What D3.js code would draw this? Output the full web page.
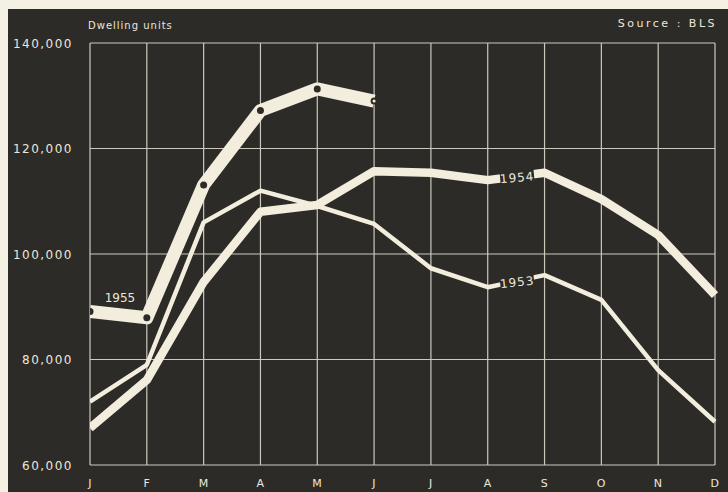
<!DOCTYPE html>
<html>
<head>
<script src="https://d3js.org/d3.v7.min.js"></script>
<style>
body { margin: 0; background: #f4f0e3; }
text { font-family: "DejaVu Sans", sans-serif; fill: #ece7d8; }
.axis text { font-size: 12px; letter-spacing: 1.5px; }
.grid line { stroke: #cdc9bd; stroke-width: 1.2; }
</style>
</head>
<body>
<script>
var months = ["J", "F", "M", "A", "M", "J", "J", "A", "S", "O", "N", "D"];
var yTicks = [60000, 80000, 100000, 120000, 140000];
var v1955 = [89100, 87900, 113100, 127200, 131300, 129000];
var v1954 = [67000, 76100, 94700, 108000, 109300, 115700, 115400, 114000, 115400, 110400, 103600, 92200];
var v1953 = [72000, 79000, 106000, 112000, 109100, 105700, 97300, 93700, 96000, 91300, 78000, 68200];

var W = 728, H = 492;
var margin = {top: 43, left: 90, right: 13, bottom: 27};
var bg = "#2c2b28", ink = "#f2eddd";

var svg = d3.select("body").append("svg")
    .attr("width", W).attr("height", H);

svg.append("rect").attr("x", 8).attr("y", 9)
    .attr("width", W - 8).attr("height", H - 9).attr("fill", bg);

var x = d3.scalePoint().domain(d3.range(12)).range([margin.left, W - margin.right]);
var y = d3.scaleLinear().domain([60000, 140000]).range([H - margin.bottom, margin.top]);

var grid = svg.append("g").attr("class", "grid");
grid.selectAll("line.v").data(d3.range(12)).enter().append("line")
    .attr("x1", function(d) { return x(d); }).attr("x2", function(d) { return x(d); })
    .attr("y1", y(140000)).attr("y2", y(60000));
grid.selectAll("line.h").data(yTicks).enter().append("line")
    .attr("x1", x(0)).attr("x2", x(11))
    .attr("y1", function(d) { return y(d); }).attr("y2", function(d) { return y(d); });

// axes
var yAxis = svg.append("g").attr("class", "axis")
    .attr("transform", "translate(" + (margin.left - 14) + ",0)")
    .call(d3.axisLeft(y).tickValues(yTicks).tickSize(0).tickFormat(d3.format(",")));
yAxis.select(".domain").remove();
yAxis.selectAll("text").attr("dy", "0.35em");

var xAxis = svg.append("g").attr("class", "axis")
    .attr("transform", "translate(0," + (y(60000) + 11) + ")")
    .call(d3.axisBottom(x).tickSize(0).tickFormat(function(d) { return months[d]; }));
xAxis.select(".domain").remove();
xAxis.selectAll("text").style("font-size", "11px");

svg.append("text").attr("x", 88).attr("y", 29)
    .style("font-size", "10px").style("letter-spacing", "1px").text("Dwelling units");
svg.append("text").attr("x", 717).attr("y", 27).attr("text-anchor", "end")
    .style("font-size", "11px").style("letter-spacing", "2.5px").text("Source : BLS");

var clip = svg.append("clipPath").attr("id", "plot").append("rect")
    .attr("x", x(0)).attr("y", 9).attr("width", W - x(0)).attr("height", H - 9);

var line = d3.line().x(function(d, i) { return x(i); }).y(function(d) { return y(d); });
var plot = svg.append("g").attr("clip-path", "url(#plot)");

plot.append("path").datum(v1953).attr("d", line)
    .attr("fill", "none").attr("stroke", ink).attr("stroke-width", 4.5).attr("stroke-linejoin", "round");
plot.append("path").datum(v1954).attr("d", line)
    .attr("fill", "none").attr("stroke", ink).attr("stroke-width", 8.5).attr("stroke-linejoin", "round");
plot.append("path").datum(v1955).attr("d", line)
    .attr("fill", "none").attr("stroke", ink).attr("stroke-width", 13).attr("stroke-linejoin", "round");

plot.selectAll("circle.pt").data(v1955).enter().append("circle")
    .attr("cx", function(d, i) { return x(i); })
    .attr("cy", function(d) { return y(d); })
    .attr("r", 3.5).attr("fill", bg);
plot.append("circle").attr("cx", x(5)).attr("cy", y(v1955[5])).attr("r", 1.5).attr("fill", ink);

// series labels
function label(txt, cx, cy, rot) {
    var g = svg.append("g").attr("transform", "translate(" + cx + "," + cy + ") rotate(" + rot + ")");
    g.append("rect").attr("x", -17).attr("y", -9).attr("width", 34).attr("height", 17).attr("fill", bg);
    g.append("text").attr("text-anchor", "middle").attr("dy", "0.35em")
        .style("font-size", "12px").style("letter-spacing", "1px").text(txt);
}
label("1954", (x(7) + x(8)) / 2 + 1, (y(v1954[7]) + y(v1954[8])) / 2 + 1, -5);
label("1953", (x(7) + x(8)) / 2 + 1, (y(v1953[7]) + y(v1953[8])) / 2 + 1, -6);

svg.append("text").attr("x", 120).attr("y", 302).attr("text-anchor", "middle")
    .style("font-size", "12px").text("1955");
</script>
</body>
</html>
